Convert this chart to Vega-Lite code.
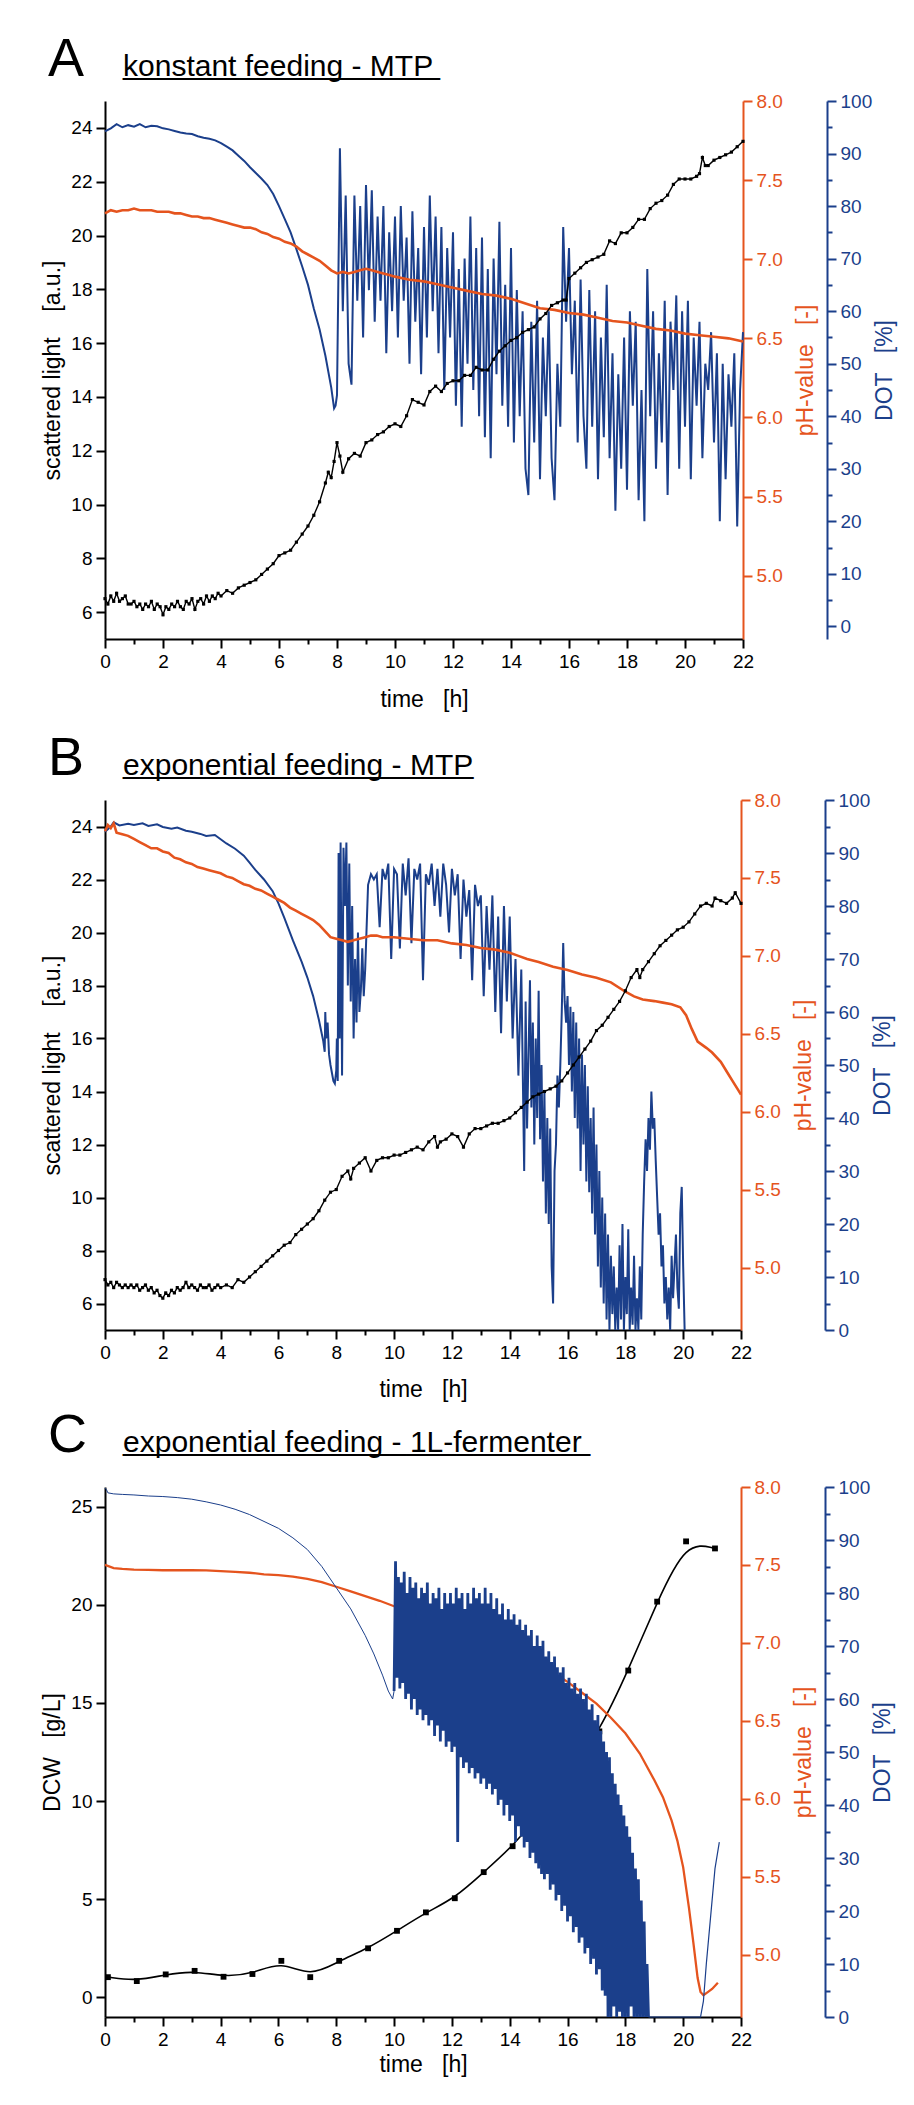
{
"$schema": "https://vega.github.io/schema/vega-lite/v6.json",
"background": "white",
"padding": {"left": 41, "top": 33, "right": 5, "bottom": 5},
"config": {
 "font": "Liberation Sans",
 "view": {"stroke": null},
 "axis": {"grid": false, "labelFont": "Liberation Sans", "labelFontSize": 19, "titleFont": "Liberation Sans", "titleFontSize": 23, "titleFontWeight": "normal", "domainWidth": 2, "tickWidth": 2, "tickSize": 9, "labelPadding": 4, "domainColor": "black", "tickColor": "black", "labelColor": "black", "titleColor": "black", "labelFlush": false, "labelOverlap": false},
 "title": {"anchor": "start", "frame": "group", "font": "Liberation Sans", "fontSize": 54, "fontWeight": "normal", "color": "black", "subtitleFont": "Liberation Sans", "subtitleFontSize": 30, "subtitleColor": "black", "subtitlePadding": -35, "subtitleLineHeight": -2, "dx": -57, "offset": 5}
},
"datasets": {
 "aSL": [{"t":0,"v":6.5},{"t":0.1,"v":6.3},{"t":0.2,"v":6.6},{"t":0.3,"v":6.4},{"t":0.4,"v":6.7},{"t":0.5,"v":6.4},{"t":0.6,"v":6.5},{"t":0.7,"v":6.6},{"t":0.8,"v":6.3},{"t":0.9,"v":6.3},{"t":1.0,"v":6.4},{"t":1.1,"v":6.2},{"t":1.2,"v":6.3},{"t":1.3,"v":6.1},{"t":1.4,"v":6.3},{"t":1.5,"v":6.2},{"t":1.6,"v":6.4},{"t":1.7,"v":6.1},{"t":1.8,"v":6.3},{"t":1.9,"v":6.2},{"t":2.0,"v":5.9},{"t":2.1,"v":6.2},{"t":2.2,"v":6.1},{"t":2.3,"v":6.3},{"t":2.4,"v":6.2},{"t":2.5,"v":6.4},{"t":2.6,"v":6.2},{"t":2.7,"v":6.1},{"t":2.8,"v":6.4},{"t":2.9,"v":6.3},{"t":3.0,"v":6.5},{"t":3.1,"v":6.1},{"t":3.2,"v":6.4},{"t":3.3,"v":6.5},{"t":3.4,"v":6.3},{"t":3.5,"v":6.6},{"t":3.6,"v":6.4},{"t":3.7,"v":6.6},{"t":3.8,"v":6.5},{"t":3.9,"v":6.7},{"t":4.0,"v":6.6},{"t":4.2,"v":6.8},{"t":4.4,"v":6.7},{"t":4.6,"v":6.9},{"t":4.8,"v":7.0},{"t":5.0,"v":7.1},{"t":5.2,"v":7.2},{"t":5.4,"v":7.4},{"t":5.6,"v":7.6},{"t":5.8,"v":7.8},{"t":6.0,"v":8.1},{"t":6.2,"v":8.2},{"t":6.4,"v":8.3},{"t":6.6,"v":8.6},{"t":6.8,"v":8.9},{"t":7.0,"v":9.2},{"t":7.2,"v":9.6},{"t":7.4,"v":10.1},{"t":7.6,"v":10.8},{"t":7.7,"v":11.2},{"t":7.8,"v":11.0},{"t":7.9,"v":11.6},{"t":8.0,"v":12.3},{"t":8.1,"v":11.8},{"t":8.2,"v":11.2},{"t":8.4,"v":11.7},{"t":8.6,"v":11.9},{"t":8.8,"v":11.8},{"t":9.0,"v":12.3},{"t":9.2,"v":12.4},{"t":9.4,"v":12.6},{"t":9.6,"v":12.7},{"t":9.8,"v":12.9},{"t":10.0,"v":13.0},{"t":10.2,"v":12.9},{"t":10.4,"v":13.3},{"t":10.6,"v":13.9},{"t":10.8,"v":13.8},{"t":11.0,"v":13.7},{"t":11.2,"v":14.2},{"t":11.4,"v":14.4},{"t":11.6,"v":14.2},{"t":11.8,"v":14.5},{"t":12.0,"v":14.6},{"t":12.2,"v":14.6},{"t":12.4,"v":14.8},{"t":12.6,"v":14.8},{"t":12.8,"v":15.1},{"t":13.0,"v":15.0},{"t":13.2,"v":15.0},{"t":13.4,"v":15.4},{"t":13.6,"v":15.7},{"t":13.8,"v":15.9},{"t":14.0,"v":16.1},{"t":14.2,"v":16.2},{"t":14.4,"v":16.4},{"t":14.6,"v":16.5},{"t":14.8,"v":16.6},{"t":15.0,"v":16.9},{"t":15.2,"v":17.1},{"t":15.4,"v":17.4},{"t":15.6,"v":17.5},{"t":15.8,"v":17.6},{"t":15.9,"v":17.6},{"t":16.0,"v":18.4},{"t":16.2,"v":18.6},{"t":16.4,"v":18.8},{"t":16.6,"v":19.0},{"t":16.8,"v":19.1},{"t":17.0,"v":19.2},{"t":17.2,"v":19.3},{"t":17.4,"v":19.8},{"t":17.6,"v":19.7},{"t":17.8,"v":20.1},{"t":18.0,"v":20.1},{"t":18.2,"v":20.3},{"t":18.4,"v":20.6},{"t":18.6,"v":20.6},{"t":18.8,"v":21.0},{"t":19.0,"v":21.2},{"t":19.2,"v":21.3},{"t":19.4,"v":21.5},{"t":19.6,"v":21.9},{"t":19.8,"v":22.1},{"t":20.0,"v":22.1},{"t":20.2,"v":22.1},{"t":20.4,"v":22.2},{"t":20.5,"v":22.3},{"t":20.6,"v":22.9},{"t":20.7,"v":22.6},{"t":20.8,"v":22.6},{"t":21.0,"v":22.8},{"t":21.2,"v":22.9},{"t":21.4,"v":23.0},{"t":21.6,"v":23.1},{"t":21.8,"v":23.3},{"t":22.0,"v":23.5}],
 "aPH": [{"t":0,"v":7.29},{"t":0.2,"v":7.31},{"t":0.4,"v":7.30},{"t":0.6,"v":7.31},{"t":0.8,"v":7.31},{"t":1.0,"v":7.32},{"t":1.2,"v":7.31},{"t":1.4,"v":7.31},{"t":1.6,"v":7.31},{"t":1.8,"v":7.30},{"t":2.0,"v":7.30},{"t":2.2,"v":7.30},{"t":2.4,"v":7.29},{"t":2.6,"v":7.29},{"t":2.8,"v":7.28},{"t":3.0,"v":7.27},{"t":3.2,"v":7.27},{"t":3.4,"v":7.26},{"t":3.6,"v":7.26},{"t":3.8,"v":7.25},{"t":4.0,"v":7.24},{"t":4.2,"v":7.23},{"t":4.4,"v":7.22},{"t":4.6,"v":7.21},{"t":4.8,"v":7.20},{"t":5.0,"v":7.20},{"t":5.2,"v":7.19},{"t":5.4,"v":7.17},{"t":5.6,"v":7.16},{"t":5.8,"v":7.14},{"t":6.0,"v":7.13},{"t":6.2,"v":7.11},{"t":6.4,"v":7.10},{"t":6.6,"v":7.08},{"t":6.8,"v":7.05},{"t":7.0,"v":7.03},{"t":7.2,"v":7.01},{"t":7.4,"v":6.99},{"t":7.6,"v":6.96},{"t":7.8,"v":6.93},{"t":8.0,"v":6.91},{"t":8.2,"v":6.92},{"t":8.4,"v":6.91},{"t":8.6,"v":6.92},{"t":8.8,"v":6.93},{"t":9.0,"v":6.94},{"t":9.2,"v":6.93},{"t":9.4,"v":6.92},{"t":9.6,"v":6.91},{"t":9.8,"v":6.90},{"t":10.0,"v":6.89},{"t":10.5,"v":6.87},{"t":11.0,"v":6.86},{"t":11.5,"v":6.84},{"t":12.0,"v":6.82},{"t":12.5,"v":6.80},{"t":13.0,"v":6.78},{"t":13.5,"v":6.77},{"t":14.0,"v":6.75},{"t":14.5,"v":6.72},{"t":15.0,"v":6.69},{"t":15.5,"v":6.68},{"t":16.0,"v":6.66},{"t":16.5,"v":6.65},{"t":17.0,"v":6.63},{"t":17.5,"v":6.61},{"t":18.0,"v":6.60},{"t":18.5,"v":6.58},{"t":19.0,"v":6.56},{"t":19.5,"v":6.55},{"t":20.0,"v":6.53},{"t":20.5,"v":6.52},{"t":21.0,"v":6.51},{"t":21.5,"v":6.50},{"t":22.0,"v":6.48}],
 "aDOT": [{"t":0,"v":94.2},{"t":0.2,"v":94.8},{"t":0.4,"v":95.6},{"t":0.6,"v":95.0},{"t":0.8,"v":95.4},{"t":1.0,"v":95.1},{"t":1.2,"v":95.6},{"t":1.4,"v":95.0},{"t":1.6,"v":95.3},{"t":1.8,"v":95.2},{"t":2.0,"v":94.8},{"t":2.2,"v":94.6},{"t":2.4,"v":94.3},{"t":2.6,"v":94.0},{"t":2.8,"v":93.8},{"t":3.0,"v":93.7},{"t":3.2,"v":93.3},{"t":3.4,"v":93.0},{"t":3.6,"v":92.8},{"t":3.8,"v":92.5},{"t":4.0,"v":92.0},{"t":4.2,"v":91.3},{"t":4.4,"v":90.6},{"t":4.6,"v":89.6},{"t":4.8,"v":88.6},{"t":5.0,"v":87.4},{"t":5.2,"v":86.3},{"t":5.4,"v":85.2},{"t":5.6,"v":84.0},{"t":5.8,"v":82.3},{"t":6.0,"v":80.0},{"t":6.2,"v":77.5},{"t":6.4,"v":75.0},{"t":6.6,"v":71.8},{"t":6.8,"v":68.5},{"t":7.0,"v":65.0},{"t":7.2,"v":60.5},{"t":7.4,"v":56.5},{"t":7.6,"v":51.5},{"t":7.8,"v":45.5},{"t":7.9,"v":41.5},{"t":7.95,"v":42},{"t":8.0,"v":44},{"t":8.1,"v":91},{"t":8.2,"v":60},{"t":8.3,"v":82},{"t":8.4,"v":50},{"t":8.5,"v":46},{"t":8.6,"v":82},{"t":8.7,"v":62},{"t":8.8,"v":80},{"t":8.9,"v":55},{"t":9.0,"v":84},{"t":9.1,"v":64},{"t":9.2,"v":83},{"t":9.3,"v":58},{"t":9.4,"v":78},{"t":9.5,"v":62},{"t":9.6,"v":80},{"t":9.7,"v":52},{"t":9.8,"v":75},{"t":9.9,"v":60},{"t":10.0,"v":78},{"t":10.1,"v":55},{"t":10.2,"v":80},{"t":10.3,"v":62},{"t":10.4,"v":74},{"t":10.5,"v":50},{"t":10.6,"v":79},{"t":10.7,"v":58},{"t":10.8,"v":72},{"t":10.9,"v":48},{"t":11.0,"v":76},{"t":11.1,"v":55},{"t":11.2,"v":82},{"t":11.3,"v":60},{"t":11.4,"v":78},{"t":11.5,"v":52},{"t":11.6,"v":76},{"t":11.7,"v":45},{"t":11.8,"v":72},{"t":11.9,"v":55},{"t":12.0,"v":75},{"t":12.1,"v":42},{"t":12.2,"v":68},{"t":12.3,"v":38},{"t":12.4,"v":70},{"t":12.5,"v":50},{"t":12.6,"v":78},{"t":12.7,"v":45},{"t":12.8,"v":72},{"t":12.9,"v":40},{"t":13.0,"v":74},{"t":13.1,"v":36},{"t":13.2,"v":68},{"t":13.3,"v":32},{"t":13.4,"v":70},{"t":13.5,"v":48},{"t":13.6,"v":77},{"t":13.7,"v":42},{"t":13.8,"v":65},{"t":13.9,"v":38},{"t":14.0,"v":72},{"t":14.1,"v":35},{"t":14.2,"v":64},{"t":14.3,"v":40},{"t":14.4,"v":60},{"t":14.5,"v":30},{"t":14.6,"v":25},{"t":14.7,"v":58},{"t":14.8,"v":35},{"t":14.9,"v":62},{"t":15.0,"v":28},{"t":15.1,"v":55},{"t":15.2,"v":40},{"t":15.3,"v":60},{"t":15.4,"v":32},{"t":15.5,"v":24},{"t":15.6,"v":50},{"t":15.7,"v":38},{"t":15.8,"v":76},{"t":15.9,"v":58},{"t":16.0,"v":72},{"t":16.1,"v":48},{"t":16.2,"v":62},{"t":16.3,"v":35},{"t":16.4,"v":66},{"t":16.5,"v":40},{"t":16.6,"v":30},{"t":16.7,"v":64},{"t":16.8,"v":38},{"t":16.9,"v":60},{"t":17.0,"v":28},{"t":17.1,"v":55},{"t":17.2,"v":36},{"t":17.3,"v":65},{"t":17.4,"v":32},{"t":17.5,"v":52},{"t":17.6,"v":22},{"t":17.7,"v":48},{"t":17.8,"v":30},{"t":17.9,"v":55},{"t":18.0,"v":26},{"t":18.1,"v":60},{"t":18.2,"v":42},{"t":18.3,"v":58},{"t":18.4,"v":24},{"t":18.5,"v":45},{"t":18.6,"v":20},{"t":18.7,"v":68},{"t":18.8,"v":40},{"t":18.9,"v":60},{"t":19.0,"v":30},{"t":19.1,"v":52},{"t":19.2,"v":35},{"t":19.3,"v":62},{"t":19.4,"v":25},{"t":19.5,"v":58},{"t":19.6,"v":45},{"t":19.7,"v":63},{"t":19.8,"v":30},{"t":19.9,"v":60},{"t":20.0,"v":38},{"t":20.1,"v":62},{"t":20.2,"v":28},{"t":20.3,"v":55},{"t":20.4,"v":42},{"t":20.5,"v":58},{"t":20.6,"v":32},{"t":20.7,"v":50},{"t":20.8,"v":45},{"t":20.9,"v":56},{"t":21.0,"v":35},{"t":21.1,"v":52},{"t":21.2,"v":20},{"t":21.3,"v":50},{"t":21.4,"v":28},{"t":21.5,"v":48},{"t":21.6,"v":38},{"t":21.7,"v":52},{"t":21.8,"v":19},{"t":21.9,"v":45},{"t":22.0,"v":56}],
 "bSL": [{"t":0,"v":6.9},{"t":0.1,"v":6.7},{"t":0.2,"v":6.8},{"t":0.3,"v":6.6},{"t":0.4,"v":6.8},{"t":0.5,"v":6.7},{"t":0.6,"v":6.6},{"t":0.7,"v":6.7},{"t":0.8,"v":6.6},{"t":0.9,"v":6.7},{"t":1.0,"v":6.6},{"t":1.1,"v":6.7},{"t":1.2,"v":6.5},{"t":1.3,"v":6.6},{"t":1.4,"v":6.7},{"t":1.5,"v":6.5},{"t":1.6,"v":6.6},{"t":1.7,"v":6.4},{"t":1.8,"v":6.5},{"t":1.9,"v":6.3},{"t":2.0,"v":6.2},{"t":2.1,"v":6.4},{"t":2.2,"v":6.3},{"t":2.3,"v":6.5},{"t":2.4,"v":6.4},{"t":2.5,"v":6.6},{"t":2.6,"v":6.5},{"t":2.7,"v":6.6},{"t":2.8,"v":6.8},{"t":2.9,"v":6.6},{"t":3.0,"v":6.7},{"t":3.1,"v":6.6},{"t":3.2,"v":6.5},{"t":3.3,"v":6.7},{"t":3.4,"v":6.6},{"t":3.5,"v":6.6},{"t":3.6,"v":6.7},{"t":3.7,"v":6.5},{"t":3.8,"v":6.6},{"t":3.9,"v":6.7},{"t":4.0,"v":6.6},{"t":4.2,"v":6.7},{"t":4.4,"v":6.6},{"t":4.6,"v":6.9},{"t":4.8,"v":6.8},{"t":5.0,"v":7.0},{"t":5.2,"v":7.2},{"t":5.4,"v":7.4},{"t":5.6,"v":7.6},{"t":5.8,"v":7.8},{"t":6.0,"v":8.0},{"t":6.2,"v":8.2},{"t":6.4,"v":8.3},{"t":6.6,"v":8.6},{"t":6.8,"v":8.8},{"t":7.0,"v":9.0},{"t":7.2,"v":9.2},{"t":7.4,"v":9.5},{"t":7.6,"v":9.9},{"t":7.8,"v":10.2},{"t":8.0,"v":10.3},{"t":8.2,"v":10.8},{"t":8.4,"v":11.0},{"t":8.5,"v":10.7},{"t":8.6,"v":11.1},{"t":8.8,"v":11.3},{"t":9.0,"v":11.5},{"t":9.2,"v":11.0},{"t":9.4,"v":11.4},{"t":9.6,"v":11.5},{"t":9.8,"v":11.5},{"t":10.0,"v":11.6},{"t":10.2,"v":11.6},{"t":10.4,"v":11.7},{"t":10.6,"v":11.8},{"t":10.8,"v":11.9},{"t":11.0,"v":11.8},{"t":11.2,"v":12.1},{"t":11.4,"v":12.3},{"t":11.5,"v":11.9},{"t":11.6,"v":12.1},{"t":11.8,"v":12.2},{"t":12.0,"v":12.4},{"t":12.2,"v":12.3},{"t":12.4,"v":11.9},{"t":12.6,"v":12.4},{"t":12.8,"v":12.6},{"t":13.0,"v":12.6},{"t":13.2,"v":12.7},{"t":13.4,"v":12.8},{"t":13.6,"v":12.8},{"t":13.8,"v":12.9},{"t":14.0,"v":13.0},{"t":14.2,"v":13.2},{"t":14.4,"v":13.4},{"t":14.6,"v":13.6},{"t":14.8,"v":13.8},{"t":15.0,"v":13.9},{"t":15.2,"v":14.0},{"t":15.4,"v":14.1},{"t":15.6,"v":14.2},{"t":15.8,"v":14.4},{"t":16.0,"v":14.7},{"t":16.2,"v":15.0},{"t":16.4,"v":15.3},{"t":16.6,"v":15.6},{"t":16.8,"v":15.9},{"t":17.0,"v":16.3},{"t":17.2,"v":16.5},{"t":17.4,"v":16.8},{"t":17.6,"v":17.1},{"t":17.8,"v":17.4},{"t":18.0,"v":17.8},{"t":18.2,"v":18.3},{"t":18.4,"v":18.6},{"t":18.5,"v":18.3},{"t":18.6,"v":18.6},{"t":18.8,"v":18.9},{"t":19.0,"v":19.2},{"t":19.2,"v":19.5},{"t":19.4,"v":19.7},{"t":19.6,"v":19.9},{"t":19.8,"v":20.1},{"t":20.0,"v":20.2},{"t":20.2,"v":20.4},{"t":20.4,"v":20.7},{"t":20.6,"v":21.0},{"t":20.8,"v":21.1},{"t":21.0,"v":21.0},{"t":21.1,"v":21.3},{"t":21.3,"v":21.2},{"t":21.5,"v":21.1},{"t":21.7,"v":21.3},{"t":21.8,"v":21.5},{"t":22.0,"v":21.1}],
 "bPH": [{"t":0,"v":7.80},{"t":0.1,"v":7.84},{"t":0.2,"v":7.82},{"t":0.3,"v":7.85},{"t":0.4,"v":7.79},{"t":0.6,"v":7.78},{"t":0.8,"v":7.77},{"t":1.0,"v":7.75},{"t":1.2,"v":7.73},{"t":1.4,"v":7.71},{"t":1.6,"v":7.69},{"t":1.8,"v":7.69},{"t":2.0,"v":7.67},{"t":2.2,"v":7.66},{"t":2.4,"v":7.63},{"t":2.6,"v":7.62},{"t":2.8,"v":7.60},{"t":3.0,"v":7.59},{"t":3.2,"v":7.57},{"t":3.4,"v":7.56},{"t":3.6,"v":7.55},{"t":3.8,"v":7.54},{"t":4.0,"v":7.53},{"t":4.2,"v":7.51},{"t":4.4,"v":7.50},{"t":4.6,"v":7.48},{"t":4.8,"v":7.46},{"t":5.0,"v":7.45},{"t":5.2,"v":7.43},{"t":5.4,"v":7.42},{"t":5.6,"v":7.40},{"t":5.8,"v":7.38},{"t":6.0,"v":7.36},{"t":6.2,"v":7.34},{"t":6.4,"v":7.31},{"t":6.6,"v":7.29},{"t":6.8,"v":7.27},{"t":7.0,"v":7.25},{"t":7.2,"v":7.23},{"t":7.4,"v":7.20},{"t":7.6,"v":7.16},{"t":7.8,"v":7.12},{"t":8.0,"v":7.11},{"t":8.2,"v":7.10},{"t":8.4,"v":7.09},{"t":8.6,"v":7.10},{"t":8.8,"v":7.11},{"t":9.0,"v":7.12},{"t":9.2,"v":7.13},{"t":9.4,"v":7.13},{"t":9.6,"v":7.12},{"t":9.8,"v":7.12},{"t":10.0,"v":7.12},{"t":10.5,"v":7.11},{"t":11.0,"v":7.10},{"t":11.5,"v":7.10},{"t":12.0,"v":7.08},{"t":12.5,"v":7.07},{"t":13.0,"v":7.05},{"t":13.5,"v":7.04},{"t":14.0,"v":7.02},{"t":14.3,"v":7.00},{"t":14.6,"v":6.98},{"t":15.0,"v":6.96},{"t":15.5,"v":6.93},{"t":16.0,"v":6.91},{"t":16.5,"v":6.88},{"t":17.0,"v":6.86},{"t":17.5,"v":6.83},{"t":18.0,"v":6.77},{"t":18.3,"v":6.74},{"t":18.6,"v":6.72},{"t":19.0,"v":6.71},{"t":19.3,"v":6.70},{"t":19.6,"v":6.69},{"t":19.9,"v":6.67},{"t":20.1,"v":6.62},{"t":20.3,"v":6.53},{"t":20.5,"v":6.45},{"t":20.8,"v":6.41},{"t":21.0,"v":6.38},{"t":21.3,"v":6.32},{"t":21.5,"v":6.26},{"t":21.7,"v":6.20},{"t":21.9,"v":6.14},{"t":22.0,"v":6.11}],
 "bDOT": [{"t":0,"v":94},{"t":0.2,"v":95},{"t":0.3,"v":95.8},{"t":0.5,"v":95.2},{"t":0.8,"v":95.5},{"t":1.0,"v":95.3},{"t":1.3,"v":95.6},{"t":1.5,"v":95.1},{"t":1.8,"v":95.4},{"t":2.0,"v":94.9},{"t":2.3,"v":94.6},{"t":2.5,"v":94.8},{"t":2.8,"v":94.2},{"t":3.0,"v":94.0},{"t":3.3,"v":93.6},{"t":3.5,"v":93.2},{"t":3.8,"v":93.4},{"t":4.0,"v":92.6},{"t":4.2,"v":91.8},{"t":4.5,"v":90.8},{"t":4.8,"v":89.5},{"t":5.0,"v":88.2},{"t":5.2,"v":86.8},{"t":5.5,"v":85.0},{"t":5.8,"v":82.8},{"t":6.0,"v":80.5},{"t":6.2,"v":77.8},{"t":6.5,"v":73.5},{"t":6.8,"v":69.5},{"t":7.0,"v":66.5},{"t":7.2,"v":63.0},{"t":7.4,"v":58.5},{"t":7.55,"v":54.5},{"t":7.6,"v":52.5},{"t":7.62,"v":60},{"t":7.65,"v":55},{"t":7.7,"v":58},{"t":7.75,"v":52},{"t":7.8,"v":50},{"t":7.9,"v":47},{"t":7.95,"v":46.5},{"t":8.0,"v":49},{"t":8.02,"v":55},{"t":8.05,"v":47},{"t":8.08,"v":90},{"t":8.12,"v":55},{"t":8.15,"v":92},{"t":8.2,"v":48},{"t":8.25,"v":91},{"t":8.3,"v":80},{"t":8.35,"v":92},{"t":8.4,"v":65},{"t":8.45,"v":88},{"t":8.5,"v":62},{"t":8.55,"v":80},{"t":8.6,"v":55},{"t":8.65,"v":70},{"t":8.7,"v":58},{"t":8.75,"v":75},{"t":8.8,"v":60},{"t":8.85,"v":64},{"t":8.9,"v":72},{"t":8.95,"v":63},{"t":9.0,"v":68},{"t":9.1,"v":84},{"t":9.2,"v":86},{"t":9.3,"v":85},{"t":9.4,"v":86},{"t":9.5,"v":76},{"t":9.6,"v":87},{"t":9.7,"v":85},{"t":9.8,"v":88},{"t":9.9,"v":70},{"t":10.0,"v":87},{"t":10.1,"v":86},{"t":10.2,"v":72},{"t":10.3,"v":88},{"t":10.4,"v":82},{"t":10.5,"v":89},{"t":10.6,"v":73},{"t":10.7,"v":87},{"t":10.8,"v":85},{"t":10.9,"v":88},{"t":11.0,"v":66},{"t":11.1,"v":86},{"t":11.2,"v":84},{"t":11.3,"v":88},{"t":11.4,"v":80},{"t":11.5,"v":87},{"t":11.6,"v":78},{"t":11.7,"v":88},{"t":11.8,"v":84},{"t":11.9,"v":75},{"t":12.0,"v":87},{"t":12.1,"v":82},{"t":12.2,"v":86},{"t":12.3,"v":70},{"t":12.4,"v":85},{"t":12.5,"v":78},{"t":12.6,"v":83},{"t":12.7,"v":66},{"t":12.8,"v":84},{"t":12.9,"v":80},{"t":13.0,"v":82},{"t":13.1,"v":63},{"t":13.2,"v":80},{"t":13.3,"v":68},{"t":13.4,"v":82},{"t":13.5,"v":60},{"t":13.6,"v":78},{"t":13.7,"v":56},{"t":13.8,"v":80},{"t":13.9,"v":62},{"t":14.0,"v":78},{"t":14.1,"v":55},{"t":14.2,"v":70},{"t":14.3,"v":48},{"t":14.4,"v":68},{"t":14.5,"v":30},{"t":14.55,"v":62},{"t":14.6,"v":38},{"t":14.7,"v":66},{"t":14.75,"v":42},{"t":14.8,"v":58},{"t":14.85,"v":35},{"t":14.9,"v":55},{"t":14.95,"v":40},{"t":15.0,"v":64},{"t":15.05,"v":36},{"t":15.1,"v":50},{"t":15.15,"v":28},{"t":15.2,"v":45},{"t":15.25,"v":22},{"t":15.3,"v":40},{"t":15.35,"v":20},{"t":15.4,"v":38},{"t":15.45,"v":12},{"t":15.5,"v":5},{"t":15.55,"v":30},{"t":15.6,"v":35},{"t":15.65,"v":48},{"t":15.7,"v":42},{"t":15.75,"v":50},{"t":15.8,"v":60},{"t":15.85,"v":73},{"t":15.9,"v":62},{"t":15.95,"v":58},{"t":16.0,"v":63},{"t":16.05,"v":50},{"t":16.1,"v":61},{"t":16.15,"v":45},{"t":16.2,"v":60},{"t":16.25,"v":40},{"t":16.3,"v":58},{"t":16.35,"v":38},{"t":16.4,"v":55},{"t":16.45,"v":30},{"t":16.5,"v":52},{"t":16.55,"v":35},{"t":16.6,"v":50},{"t":16.65,"v":28},{"t":16.7,"v":46},{"t":16.75,"v":26},{"t":16.8,"v":40},{"t":16.85,"v":22},{"t":16.9,"v":42},{"t":16.95,"v":18},{"t":17.0,"v":35},{"t":17.05,"v":12},{"t":17.1,"v":30},{"t":17.15,"v":8},{"t":17.2,"v":25},{"t":17.25,"v":5},{"t":17.3,"v":22},{"t":17.35,"v":2},{"t":17.4,"v":18},{"t":17.45,"v":0},{"t":17.5,"v":14},{"t":17.55,"v":3},{"t":17.6,"v":12},{"t":17.65,"v":0},{"t":17.7,"v":8},{"t":17.75,"v":0},{"t":17.8,"v":16},{"t":17.85,"v":2},{"t":17.9,"v":20},{"t":17.95,"v":0},{"t":18.0,"v":10},{"t":18.05,"v":3},{"t":18.1,"v":19},{"t":18.15,"v":0},{"t":18.2,"v":8},{"t":18.25,"v":1},{"t":18.3,"v":14},{"t":18.35,"v":0},{"t":18.4,"v":6},{"t":18.45,"v":0},{"t":18.5,"v":12},{"t":18.55,"v":2},{"t":18.6,"v":18},{"t":18.65,"v":28},{"t":18.7,"v":36},{"t":18.75,"v":30},{"t":18.8,"v":40},{"t":18.85,"v":34},{"t":18.9,"v":45},{"t":18.95,"v":38},{"t":19.0,"v":40},{"t":19.05,"v":32},{"t":19.1,"v":25},{"t":19.15,"v":18},{"t":19.2,"v":22},{"t":19.25,"v":12},{"t":19.3,"v":16},{"t":19.35,"v":5},{"t":19.4,"v":10},{"t":19.45,"v":2},{"t":19.5,"v":8},{"t":19.55,"v":0},{"t":19.6,"v":14},{"t":19.65,"v":6},{"t":19.7,"v":12},{"t":19.75,"v":18},{"t":19.8,"v":8},{"t":19.85,"v":4},{"t":19.9,"v":22},{"t":19.95,"v":27},{"t":20.0,"v":12},{"t":20.05,"v":0}],
 "cDCW": [{"t":0.1,"v":1.03},{"t":1.1,"v":0.83},{"t":2.1,"v":1.17},{"t":3.1,"v":1.35},{"t":4.1,"v":1.05},{"t":5.1,"v":1.19},{"t":6.1,"v":1.86},{"t":7.1,"v":1.03},{"t":8.1,"v":1.86},{"t":9.1,"v":2.5},{"t":10.1,"v":3.39},{"t":11.1,"v":4.33},{"t":12.1,"v":5.05},{"t":13.1,"v":6.38},{"t":14.1,"v":7.7},{"t":15.1,"v":9.4},{"t":16.1,"v":11.5},{"t":17.1,"v":13.55},{"t":18.1,"v":16.65},{"t":19.1,"v":20.16},{"t":20.1,"v":23.23},{"t":21.1,"v":22.87}],
 "cPH": [{"t":0,"v":7.50},{"t":0.3,"v":7.48},{"t":0.6,"v":7.475},{"t":1.0,"v":7.47},{"t":1.5,"v":7.468},{"t":2.0,"v":7.466},{"t":2.5,"v":7.466},{"t":3.0,"v":7.466},{"t":3.5,"v":7.465},{"t":4.0,"v":7.46},{"t":4.5,"v":7.455},{"t":5.0,"v":7.45},{"t":5.5,"v":7.44},{"t":6.0,"v":7.435},{"t":6.5,"v":7.425},{"t":7.0,"v":7.41},{"t":7.5,"v":7.39},{"t":8.0,"v":7.36},{"t":8.5,"v":7.33},{"t":9.0,"v":7.30},{"t":9.5,"v":7.27},{"t":10.0,"v":7.235},{"t":10.5,"v":7.21},{"t":11.0,"v":7.185},{"t":11.5,"v":7.16},{"t":12.0,"v":7.13},{"t":12.5,"v":7.10},{"t":13.0,"v":7.06},{"t":13.5,"v":7.02},{"t":14.0,"v":6.97},{"t":14.5,"v":6.92},{"t":15.0,"v":6.87},{"t":15.5,"v":6.81},{"t":16.0,"v":6.75},{"t":16.5,"v":6.68},{"t":17.0,"v":6.61},{"t":17.5,"v":6.52},{"t":18.0,"v":6.42},{"t":18.5,"v":6.29},{"t":19.0,"v":6.12},{"t":19.3,"v":6.01},{"t":19.6,"v":5.86},{"t":19.8,"v":5.73},{"t":20.0,"v":5.56},{"t":20.2,"v":5.30},{"t":20.35,"v":5.08},{"t":20.5,"v":4.85},{"t":20.6,"v":4.76},{"t":20.7,"v":4.74},{"t":20.85,"v":4.76},{"t":21.0,"v":4.78},{"t":21.2,"v":4.82}],
 "cDOT": [{"t":0,"v":99.8},{"t":0.05,"v":99.5},{"t":0.1,"v":98.9},{"t":0.3,"v":98.7},{"t":0.6,"v":98.6},{"t":1.0,"v":98.5},{"t":1.5,"v":98.3},{"t":2.0,"v":98.2},{"t":2.5,"v":98.0},{"t":3.0,"v":97.7},{"t":3.5,"v":97.2},{"t":4.0,"v":96.6},{"t":4.5,"v":95.8},{"t":5.0,"v":94.8},{"t":5.5,"v":93.5},{"t":6.0,"v":92.2},{"t":6.5,"v":90.4},{"t":7.0,"v":88.2},{"t":7.5,"v":85.0},{"t":8.0,"v":81.0},{"t":8.5,"v":77.0},{"t":9.0,"v":72.0},{"t":9.3,"v":68.5},{"t":9.6,"v":64.5},{"t":9.8,"v":61.5},{"t":9.95,"v":60.0},{"t":10.0,"v":61.5},{"t":10.05,"v":86},{"t":10.1,"v":64},{"t":10.15,"v":83},{"t":10.2,"v":62},{"t":10.25,"v":82},{"t":10.3,"v":63},{"t":10.35,"v":84},{"t":10.4,"v":60},{"t":10.45,"v":80},{"t":10.5,"v":61},{"t":10.55,"v":83},{"t":10.6,"v":58},{"t":10.65,"v":81},{"t":10.7,"v":60},{"t":10.75,"v":82},{"t":10.8,"v":57},{"t":10.85,"v":79},{"t":10.9,"v":58},{"t":10.95,"v":81},{"t":11.0,"v":56},{"t":11.05,"v":80},{"t":11.1,"v":57},{"t":11.15,"v":82},{"t":11.2,"v":55},{"t":11.25,"v":78},{"t":11.3,"v":56},{"t":11.35,"v":80},{"t":11.4,"v":53},{"t":11.45,"v":79},{"t":11.5,"v":55},{"t":11.55,"v":81},{"t":11.6,"v":52},{"t":11.65,"v":77},{"t":11.7,"v":54},{"t":11.75,"v":80},{"t":11.8,"v":51},{"t":11.85,"v":78},{"t":11.9,"v":52},{"t":11.95,"v":80},{"t":12.0,"v":50},{"t":12.05,"v":78},{"t":12.1,"v":51},{"t":12.15,"v":81},{"t":12.2,"v":33},{"t":12.25,"v":79},{"t":12.3,"v":49},{"t":12.35,"v":80},{"t":12.4,"v":47},{"t":12.45,"v":77},{"t":12.5,"v":48},{"t":12.55,"v":80},{"t":12.6,"v":46},{"t":12.65,"v":78},{"t":12.7,"v":47},{"t":12.75,"v":81},{"t":12.8,"v":45},{"t":12.85,"v":79},{"t":12.9,"v":46},{"t":12.95,"v":80},{"t":13.0,"v":44},{"t":13.05,"v":78},{"t":13.1,"v":45},{"t":13.15,"v":81},{"t":13.2,"v":43},{"t":13.25,"v":78},{"t":13.3,"v":44},{"t":13.35,"v":80},{"t":13.4,"v":42},{"t":13.45,"v":77},{"t":13.5,"v":43},{"t":13.55,"v":79},{"t":13.6,"v":40},{"t":13.65,"v":76},{"t":13.7,"v":41},{"t":13.75,"v":78},{"t":13.8,"v":38},{"t":13.85,"v":75},{"t":13.9,"v":40},{"t":13.95,"v":77},{"t":14.0,"v":37},{"t":14.05,"v":75},{"t":14.1,"v":38},{"t":14.15,"v":76},{"t":14.2,"v":33},{"t":14.25,"v":74},{"t":14.3,"v":36},{"t":14.35,"v":75},{"t":14.4,"v":34},{"t":14.45,"v":73},{"t":14.5,"v":32},{"t":14.55,"v":74},{"t":14.6,"v":33},{"t":14.65,"v":72},{"t":14.7,"v":30},{"t":14.75,"v":73},{"t":14.8,"v":31},{"t":14.85,"v":70},{"t":14.9,"v":29},{"t":14.95,"v":72},{"t":15.0,"v":28},{"t":15.05,"v":70},{"t":15.1,"v":27},{"t":15.15,"v":71},{"t":15.2,"v":26},{"t":15.25,"v":68},{"t":15.3,"v":27},{"t":15.35,"v":69},{"t":15.4,"v":24},{"t":15.45,"v":67},{"t":15.5,"v":25},{"t":15.55,"v":68},{"t":15.6,"v":22},{"t":15.65,"v":66},{"t":15.7,"v":23},{"t":15.75,"v":65},{"t":15.8,"v":20},{"t":15.85,"v":66},{"t":15.9,"v":21},{"t":15.95,"v":63},{"t":16.0,"v":18},{"t":16.05,"v":64},{"t":16.1,"v":19},{"t":16.15,"v":62},{"t":16.2,"v":16},{"t":16.25,"v":63},{"t":16.3,"v":17},{"t":16.35,"v":61},{"t":16.4,"v":14},{"t":16.45,"v":62},{"t":16.5,"v":15},{"t":16.55,"v":60},{"t":16.6,"v":12},{"t":16.65,"v":61},{"t":16.7,"v":13},{"t":16.75,"v":58},{"t":16.8,"v":10},{"t":16.85,"v":59},{"t":16.9,"v":11},{"t":16.95,"v":56},{"t":17.0,"v":8},{"t":17.05,"v":57},{"t":17.1,"v":9},{"t":17.15,"v":54},{"t":17.2,"v":5},{"t":17.25,"v":52},{"t":17.3,"v":4},{"t":17.35,"v":50},{"t":17.4,"v":0},{"t":17.45,"v":49},{"t":17.5,"v":0},{"t":17.55,"v":46},{"t":17.6,"v":2},{"t":17.65,"v":44},{"t":17.7,"v":0},{"t":17.75,"v":42},{"t":17.8,"v":1},{"t":17.85,"v":40},{"t":17.9,"v":0},{"t":17.95,"v":38},{"t":18.0,"v":0},{"t":18.05,"v":36},{"t":18.1,"v":0},{"t":18.15,"v":34},{"t":18.2,"v":2},{"t":18.25,"v":31},{"t":18.3,"v":0},{"t":18.35,"v":28},{"t":18.4,"v":0},{"t":18.45,"v":26},{"t":18.5,"v":0},{"t":18.55,"v":22},{"t":18.6,"v":0},{"t":18.65,"v":18},{"t":18.7,"v":0},{"t":18.75,"v":10},{"t":18.8,"v":0},{"t":20.6,"v":0},{"t":20.7,"v":3},{"t":20.8,"v":10},{"t":21.0,"v":22},{"t":21.1,"v":28},{"t":21.25,"v":33}]
},
"spacing": 21,
"vconcat": [
 {
  "title": {"text": "A", "subtitle": ["\u200b\u00a0\u00a0\u00a0\u00a0\u00a0\u00a0\u00a0\u00a0\u00a0konstant feeding - MTP", "\u200b\u00a0\u00a0\u00a0\u00a0\u00a0\u00a0\u00a0\u00a0\u00a0___________________"], "offset": 5},
  "width": 638, "height": 538,
  "resolve": {"scale": {"x": "independent", "y": "independent"}},
  "layer": [
   {"data": {"name": "aDOT"}, "mark": {"type": "line", "color": "#1B3F8B", "strokeWidth": 2},
    "encoding": {"x": {"field": "t", "type": "quantitative", "scale": {"domain": [0, 22], "nice": false, "zero": false}, "axis": null},
     "y": {"field": "v", "type": "quantitative", "scale": {"domain": [-2.4, 100], "nice": false, "zero": false}, "axis": {"orient": "right", "offset": 84, "values": [0,10,20,30,40,50,60,70,80,90,100], "title": "DOT\u00a0\u00a0\u00a0[%]", "titleAngle": 270, "titleBaseline": "top", "titlePadding": 2, "domainColor": "#1B3F8B", "tickColor": "#1B3F8B", "labelColor": "#1B3F8B", "titleColor": "#1B3F8B"}}}},
   {"data": {"name": "aDOT"}, "mark": {"type": "point", "opacity": 0},
    "encoding": {"x": {"field": "t", "type": "quantitative", "scale": {"domain": [0, 22], "nice": false, "zero": false}, "axis": null},
     "y": {"field": "v", "type": "quantitative", "scale": {"domain": [-2.4, 100], "nice": false, "zero": false}, "axis": {"orient": "right", "offset": 84, "values": [5,15,25,35,45,55,65,75,85,95], "labels": false, "domain": false, "tickSize": 5, "tickColor": "#1B3F8B", "title": null}}}},
   {"data": {"name": "aPH"}, "mark": {"type": "line", "color": "#E5541E", "strokeWidth": 2.6},
    "encoding": {"x": {"field": "t", "type": "quantitative", "scale": {"domain": [0, 22], "nice": false, "zero": false}, "axis": null},
     "y": {"field": "v", "type": "quantitative", "scale": {"domain": [4.6, 8.0], "nice": false, "zero": false}, "axis": {"orient": "right", "values": [5,5.5,6,6.5,7,7.5,8], "format": ".1f", "title": "pH-value\u00a0\u00a0\u00a0[-]", "titleAngle": 270, "titleBaseline": "top", "titlePadding": 12, "domainColor": "#E5541E", "tickColor": "#E5541E", "labelColor": "#E5541E", "titleColor": "#E5541E"}}}},
   {"data": {"name": "aSL"}, "mark": {"type": "line", "color": "black", "strokeWidth": 1.4, "point": {"shape": "square", "size": 10, "color": "black", "filled": true}},
    "encoding": {"x": {"field": "t", "type": "quantitative", "scale": {"domain": [0, 22], "nice": false, "zero": false}, "axis": {"orient": "bottom", "values": [0,2,4,6,8,10,12,14,16,18,20,22], "title": "time\u00a0\u00a0\u00a0[h]", "titlePadding": 17}},
     "y": {"field": "v", "type": "quantitative", "scale": {"domain": [5, 25], "nice": false, "zero": false}, "axis": {"orient": "left", "values": [6,8,10,12,14,16,18,20,22,24], "title": "scattered light\u00a0\u00a0\u00a0\u00a0[a.u.]", "titlePadding": 6}}}},
   {"data": {"name": "aSL"}, "mark": {"type": "point", "opacity": 0},
    "encoding": {"x": {"field": "t", "type": "quantitative", "scale": {"domain": [0, 22], "nice": false, "zero": false}, "axis": {"orient": "bottom", "values": [1,3,5,7,9,11,13,15,17,19,21], "labels": false, "domain": false, "tickSize": 5, "title": null}},
     "y": {"field": "v", "type": "quantitative", "scale": {"domain": [5, 25], "nice": false, "zero": false}, "axis": null}}}
  ]
 },
 {
  "spacing": 8,
  "vconcat": [
   {
    "title": {"text": "B", "subtitle": ["\u200b\u00a0\u00a0\u00a0\u00a0\u00a0\u00a0\u00a0\u00a0\u00a0exponential feeding - MTP", "\u200b\u00a0\u00a0\u00a0\u00a0\u00a0\u00a0\u00a0\u00a0\u00a0_____________________"], "offset": 5},
    "width": 636, "height": 530,
    "resolve": {"scale": {"x": "independent", "y": "independent"}},
    "layer": [
     {"data": {"name": "bDOT"}, "mark": {"type": "line", "color": "#1B3F8B", "strokeWidth": 2},
      "encoding": {"x": {"field": "t", "type": "quantitative", "scale": {"domain": [0, 22], "nice": false, "zero": false}, "axis": null},
       "y": {"field": "v", "type": "quantitative", "scale": {"domain": [0, 100], "nice": false, "zero": false}, "axis": {"orient": "right", "offset": 84, "values": [0,10,20,30,40,50,60,70,80,90,100], "title": "DOT\u00a0\u00a0\u00a0[%]", "titleAngle": 270, "titleBaseline": "top", "titlePadding": 2, "domainColor": "#1B3F8B", "tickColor": "#1B3F8B", "labelColor": "#1B3F8B", "titleColor": "#1B3F8B"}}}},
     {"data": {"name": "bDOT"}, "mark": {"type": "point", "opacity": 0},
      "encoding": {"x": {"field": "t", "type": "quantitative", "scale": {"domain": [0, 22], "nice": false, "zero": false}, "axis": null},
       "y": {"field": "v", "type": "quantitative", "scale": {"domain": [0, 100], "nice": false, "zero": false}, "axis": {"orient": "right", "offset": 84, "values": [5,15,25,35,45,55,65,75,85,95], "labels": false, "domain": false, "tickSize": 5, "tickColor": "#1B3F8B", "title": null}}}},
     {"data": {"name": "bPH"}, "mark": {"type": "line", "color": "#E5541E", "strokeWidth": 2.6},
      "encoding": {"x": {"field": "t", "type": "quantitative", "scale": {"domain": [0, 22], "nice": false, "zero": false}, "axis": null},
       "y": {"field": "v", "type": "quantitative", "scale": {"domain": [4.6, 8.0], "nice": false, "zero": false}, "axis": {"orient": "right", "values": [5,5.5,6,6.5,7,7.5,8], "format": ".1f", "title": "pH-value\u00a0\u00a0\u00a0[-]", "titleAngle": 270, "titleBaseline": "top", "titlePadding": 12, "domainColor": "#E5541E", "tickColor": "#E5541E", "labelColor": "#E5541E", "titleColor": "#E5541E"}}}},
     {"data": {"name": "bSL"}, "mark": {"type": "line", "color": "black", "strokeWidth": 1.4, "point": {"shape": "square", "size": 10, "color": "black", "filled": true}},
      "encoding": {"x": {"field": "t", "type": "quantitative", "scale": {"domain": [0, 22], "nice": false, "zero": false}, "axis": {"orient": "bottom", "values": [0,2,4,6,8,10,12,14,16,18,20,22], "title": "time\u00a0\u00a0\u00a0[h]", "titlePadding": 16}},
       "y": {"field": "v", "type": "quantitative", "scale": {"domain": [5, 25], "nice": false, "zero": false}, "axis": {"orient": "left", "values": [6,8,10,12,14,16,18,20,22,24], "title": "scattered light\u00a0\u00a0\u00a0\u00a0[a.u.]", "titlePadding": 6}}}},
     {"data": {"name": "bSL"}, "mark": {"type": "point", "opacity": 0},
      "encoding": {"x": {"field": "t", "type": "quantitative", "scale": {"domain": [0, 22], "nice": false, "zero": false}, "axis": {"orient": "bottom", "values": [1,3,5,7,9,11,13,15,17,19,21], "labels": false, "domain": false, "tickSize": 5, "title": null}},
       "y": {"field": "v", "type": "quantitative", "scale": {"domain": [5, 25], "nice": false, "zero": false}, "axis": null}}}
    ]
   },
   {
    "title": {"text": "C", "subtitle": ["\u200b\u00a0\u00a0\u00a0\u00a0\u00a0\u00a0\u00a0\u00a0\u00a0exponential feeding - 1L-fermenter", "\u200b\u00a0\u00a0\u00a0\u00a0\u00a0\u00a0\u00a0\u00a0\u00a0____________________________"], "offset": 15},
    "width": 636, "height": 530,
    "resolve": {"scale": {"x": "independent", "y": "independent"}},
    "layer": [
     {"data": {"name": "cDCW"}, "mark": {"type": "line", "color": "black", "strokeWidth": 1.6, "interpolate": "basis", "point": {"shape": "square", "size": 34, "color": "black", "filled": true}},
      "encoding": {"x": {"field": "t", "type": "quantitative", "scale": {"domain": [0, 22], "nice": false, "zero": false}, "axis": {"orient": "bottom", "values": [0,2,4,6,8,10,12,14,16,18,20,22], "title": "time\u00a0\u00a0\u00a0[h]", "titlePadding": 4}},
       "y": {"field": "v", "type": "quantitative", "scale": {"domain": [-1, 26], "nice": false, "zero": false}, "axis": {"orient": "left", "values": [0,5,10,15,20,25], "title": "DCW\u00a0\u00a0\u00a0[g/L]", "titlePadding": 6}}}},
     {"data": {"name": "cDCW"}, "mark": {"type": "point", "opacity": 0},
      "encoding": {"x": {"field": "t", "type": "quantitative", "scale": {"domain": [0, 22], "nice": false, "zero": false}, "axis": {"orient": "bottom", "values": [1,3,5,7,9,11,13,15,17,19,21], "labels": false, "domain": false, "tickSize": 5, "title": null}},
       "y": {"field": "v", "type": "quantitative", "scale": {"domain": [-1, 26], "nice": false, "zero": false}, "axis": null}}},
     {"data": {"name": "cPH"}, "mark": {"type": "line", "color": "#E5541E", "strokeWidth": 2.3},
      "encoding": {"x": {"field": "t", "type": "quantitative", "scale": {"domain": [0, 22], "nice": false, "zero": false}, "axis": null},
       "y": {"field": "v", "type": "quantitative", "scale": {"domain": [4.6, 8.0], "nice": false, "zero": false}, "axis": {"orient": "right", "values": [5,5.5,6,6.5,7,7.5,8], "format": ".1f", "title": "pH-value\u00a0\u00a0\u00a0[-]", "titleAngle": 270, "titleBaseline": "top", "titlePadding": 12, "domainColor": "#E5541E", "tickColor": "#E5541E", "labelColor": "#E5541E", "titleColor": "#E5541E"}}}},
     {"data": {"name": "cDOT"}, "transform": [{"filter": {"field": "t", "lte": 10.0}}], "mark": {"type": "line", "color": "#1B3F8B", "strokeWidth": 1},
      "encoding": {"x": {"field": "t", "type": "quantitative", "scale": {"domain": [0, 22], "nice": false, "zero": false}, "axis": null},
       "y": {"field": "v", "type": "quantitative", "scale": {"domain": [0, 100], "nice": false, "zero": false}, "axis": {"orient": "right", "offset": 84, "values": [0,10,20,30,40,50,60,70,80,90,100], "title": "DOT\u00a0\u00a0\u00a0[%]", "titleAngle": 270, "titleBaseline": "top", "titlePadding": 2, "domainColor": "#1B3F8B", "tickColor": "#1B3F8B", "labelColor": "#1B3F8B", "titleColor": "#1B3F8B"}}}},
     {"data": {"name": "cDOT"}, "transform": [{"filter": {"field": "t", "range": [10.0, 18.8]}}], "mark": {"type": "line", "color": "#1B3F8B", "strokeWidth": 2.8},
      "encoding": {"x": {"field": "t", "type": "quantitative", "scale": {"domain": [0, 22], "nice": false, "zero": false}, "axis": null},
       "y": {"field": "v", "type": "quantitative", "scale": {"domain": [0, 100], "nice": false, "zero": false}, "axis": null}}},
     {"data": {"name": "cDOT"}, "transform": [{"filter": {"field": "t", "gte": 18.8}}], "mark": {"type": "line", "color": "#1B3F8B", "strokeWidth": 1.2},
      "encoding": {"x": {"field": "t", "type": "quantitative", "scale": {"domain": [0, 22], "nice": false, "zero": false}, "axis": null},
       "y": {"field": "v", "type": "quantitative", "scale": {"domain": [0, 100], "nice": false, "zero": false}, "axis": null}}},
     {"data": {"name": "cDOT"}, "mark": {"type": "point", "opacity": 0},
      "encoding": {"x": {"field": "t", "type": "quantitative", "scale": {"domain": [0, 22], "nice": false, "zero": false}, "axis": null},
       "y": {"field": "v", "type": "quantitative", "scale": {"domain": [0, 100], "nice": false, "zero": false}, "axis": {"orient": "right", "offset": 84, "values": [5,15,25,35,45,55,65,75,85,95], "labels": false, "domain": false, "tickSize": 5, "tickColor": "#1B3F8B", "title": null}}}}
    ]
   }
  ]
 }
]
}
